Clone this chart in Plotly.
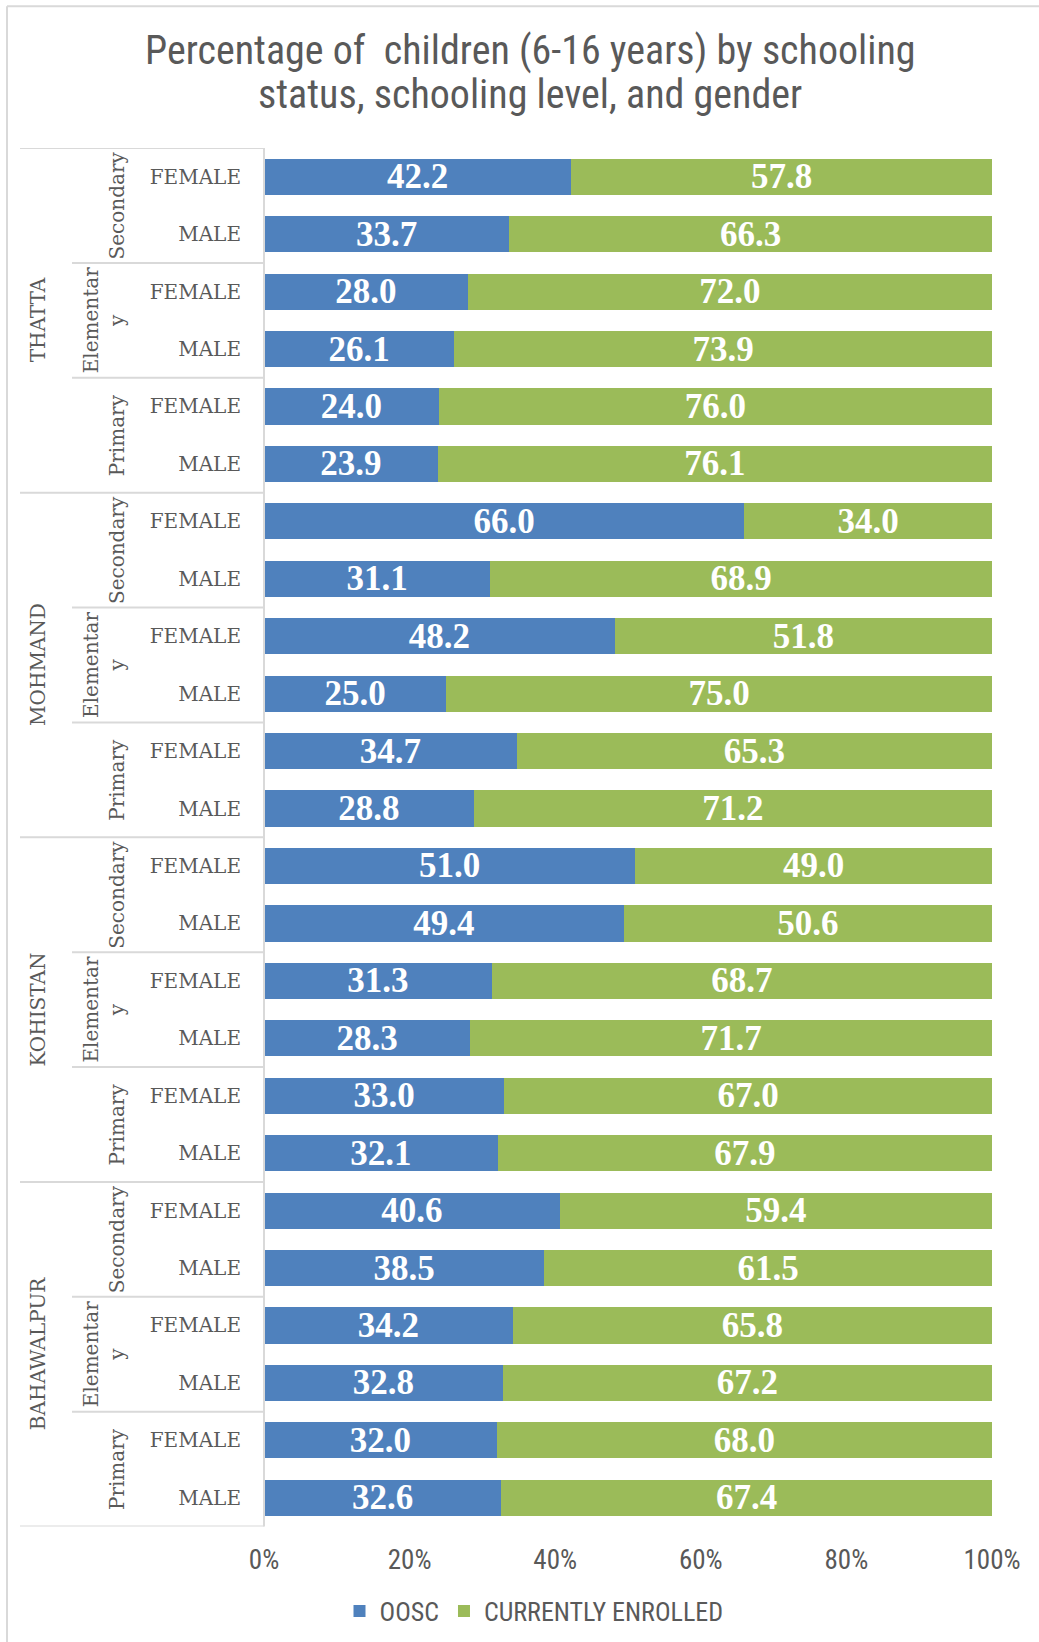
import plotly.graph_objects as go

# ---- data ----
districts = ["THATTA", "MOHMAND", "KOHISTAN", "BAHAWALPUR"]
levels = ["Secondary", "Elementary", "Primary"]
genders = ["FEMALE", "MALE"]

# one value per row, top to bottom: district > level > gender
oosc = [42.2, 33.7, 28.0, 26.1, 24.0, 23.9,
        66.0, 31.1, 48.2, 25.0, 34.7, 28.8,
        51.0, 49.4, 31.3, 28.3, 33.0, 32.1,
        40.6, 38.5, 34.2, 32.8, 32.0, 32.6]
enrolled = [57.8, 66.3, 72.0, 73.9, 76.0, 76.1,
            34.0, 68.9, 51.8, 75.0, 65.3, 71.2,
            49.0, 50.6, 68.7, 71.7, 67.0, 67.9,
            59.4, 61.5, 65.8, 67.2, 68.0, 67.4]

x_ticks = [0, 20, 40, 60, 80, 100]
x_tick_labels = ["0%", "20%", "40%", "60%", "80%", "100%"]

title_lines = ["Percentage of  children (6-16 years) by schooling",
               "status, schooling level, and gender"]

# ---- styling ----
BLUE = "#4F81BD"
GREEN = "#9BBB59"
GREY_TXT = "#595959"
GREY_LINE = "#D9D9D9"
SERIF = "DejaVu Serif, Liberation Serif, serif"
LABEL_SERIF = "Liberation Serif, DejaVu Serif, serif"
NARROW = "Liberation Sans Narrow, Arial Narrow, Roboto Condensed, Liberation Sans, sans-serif"

W, H = 1039, 1642
L, R, T, B = 264, 47, 148, 113
PW = W - L - R
PH = H - T - B


def px_to_xpaper(px):
    return (px - L) / PW


def px_to_ypaper(py):
    return (H - B - py) / PH


n_lev = len(levels)
n_gen = len(genders)
rows_per_district = n_lev * n_gen
n_rows = len(districts) * rows_per_district
row_pos = list(range(n_rows))
row_gender = [genders[i % n_gen] for i in row_pos]

fig = go.Figure()
label_font = dict(family=LABEL_SERIF, size=35, color="white", weight="bold")
fig.add_trace(go.Bar(
    y=row_pos, x=oosc, orientation="h", name="OOSC",
    marker=dict(color=BLUE, line=dict(width=0)),
    texttemplate="%{x:.1f}", textposition="inside", insidetextanchor="middle",
    textfont=label_font, constraintext="none", cliponaxis=False,
))
fig.add_trace(go.Bar(
    y=row_pos, x=enrolled, orientation="h", name="CURRENTLY ENROLLED",
    marker=dict(color=GREEN, line=dict(width=0)),
    texttemplate="%{x:.1f}", textposition="inside", insidetextanchor="middle",
    textfont=label_font, constraintext="none", cliponaxis=False,
))

shapes = []
annotations = []

# table lines of the category axis
x_outer = px_to_xpaper(20)
x_inner = px_to_xpaper(72)
for d in range(len(districts) + 1):
    yb = d * rows_per_district - 0.5
    shapes.append(dict(type="line", xref="paper", yref="y", x0=x_outer, x1=0,
                       y0=yb, y1=yb, line=dict(color=GREY_LINE, width=2)))
for d in range(len(districts)):
    for lv in range(1, n_lev):
        yb = d * rows_per_district + lv * n_gen - 0.5
        shapes.append(dict(type="line", xref="paper", yref="y", x0=x_inner, x1=0,
                           y0=yb, y1=yb, line=dict(color=GREY_LINE, width=2)))
shapes.append(dict(type="line", xref="paper", yref="paper", x0=0, x1=0,
                   y0=0, y1=1, line=dict(color=GREY_LINE, width=2)))

# chart frame (top and left edges)
shapes.append(dict(type="line", xref="paper", yref="paper",
                   x0=px_to_xpaper(7), x1=px_to_xpaper(W + 5),
                   y0=px_to_ypaper(6), y1=px_to_ypaper(6),
                   line=dict(color=GREY_LINE, width=2)))
shapes.append(dict(type="line", xref="paper", yref="paper",
                   x0=px_to_xpaper(7), x1=px_to_xpaper(7),
                   y0=px_to_ypaper(6), y1=px_to_ypaper(H + 5),
                   line=dict(color=GREY_LINE, width=2)))

# district and level labels
cat_font = dict(family=SERIF, size=20, color=GREY_TXT)
for d, name in enumerate(districts):
    yc = d * rows_per_district + (rows_per_district - 1) / 2
    annotations.append(dict(text=name, xref="paper", yref="y",
                            x=px_to_xpaper(38), y=yc, textangle=-90,
                            showarrow=False, font=cat_font,
                            xanchor="center", yanchor="middle"))
    for lv, lname in enumerate(levels):
        yc = d * rows_per_district + lv * n_gen + (n_gen - 1) / 2
        if len(lname) > 9:
            txt = lname[:9] + "<br>" + lname[9:]
            xc = px_to_xpaper(104)
        else:
            txt = lname
            xc = px_to_xpaper(117)
        annotations.append(dict(text=txt, xref="paper", yref="y",
                                x=xc, y=yc, textangle=-90,
                                showarrow=False, font=cat_font,
                                xanchor="center", yanchor="middle"))

# chart title, two lines with tight spacing
for line, ypx in zip(title_lines, [50, 94]):
    annotations.append(dict(text=line, xref="paper", yref="paper",
                            x=px_to_xpaper(530), y=px_to_ypaper(ypx),
                            xanchor="center", yanchor="middle", showarrow=False,
                            font=dict(family=NARROW, size=40, color=GREY_TXT)))

fig.update_layout(
    width=W, height=H,
    margin=dict(l=L, r=R, t=T, b=B, pad=0),
    paper_bgcolor="white", plot_bgcolor="white",
    barmode="stack", bargap=0.37,
    xaxis=dict(range=[0, 100], tickvals=x_ticks, ticktext=x_tick_labels,
               showgrid=False, zeroline=False, showline=False,
               ticks="", ticklabelstandoff=14,
               tickfont=dict(family=NARROW, size=27, color=GREY_TXT)),
    yaxis=dict(range=[n_rows - 0.5, -0.5], tickvals=row_pos, ticktext=row_gender,
               showgrid=False, zeroline=False, showline=False,
               ticks="", ticklabelstandoff=22,
               tickfont=cat_font),
    legend=dict(orientation="h", xref="container", yref="container",
                x=534 / W, xanchor="center", y=1 - 1611 / H, yanchor="middle",
                itemwidth=30, font=dict(family=NARROW, size=26, color=GREY_TXT),
                traceorder="normal"),
    shapes=shapes,
    annotations=annotations,
)

fig.write_html("out.html")
